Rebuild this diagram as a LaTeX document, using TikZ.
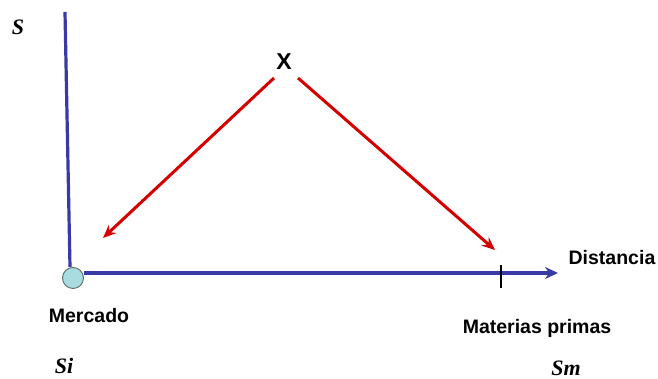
\documentclass[tikz,border=0pt]{standalone}
\usepackage{fontspec}
\setmainfont{Liberation Serif}
\setsansfont{Liberation Sans}
\usetikzlibrary{positioning, arrows.meta, backgrounds}
\definecolor{axisBlue}{HTML}{3A3AA6}
\definecolor{arrowRed}{HTML}{D40000}
\definecolor{marketCyan}{HTML}{A8DCE0}
\definecolor{edgeGrey}{HTML}{5A6A6A}

\begin{document}
\begin{tikzpicture}[x=1pt, y=1pt,
    lbl/.style={font=\sffamily\bfseries\fontsize{19.5}{21}\selectfont, inner sep=0pt},
    sym/.style={font=\rmfamily\bfseries\itshape\fontsize{22}{24}\selectfont, inner sep=0pt},
    axis/.style={axisBlue, line width=3.2pt},
    pull/.style={arrowRed, line width=3pt, -{Stealth[length=13pt, width=11pt]}}]
    \useasboundingbox (0,0) rectangle (658,379);
    % axes
    \coordinate (ytop) at (65,367);
    \coordinate (xend) at (558,106);
    \node[circle, fill=marketCyan, draw=edgeGrey, line width=0.9pt, minimum size=21pt, inner sep=0pt] (mkt) at (73,101) {};
    \begin{scope}[on background layer]
      \draw[axis] (ytop) -- ([xshift=-3pt]mkt.north);
      \draw[axis, -{Stealth[length=13pt, width=12pt]}] (mkt.east |- xend) -- (xend);
    \end{scope}
    \coordinate (mp) at (501,106);
    \draw[line width=2.4pt, black] ([yshift=8pt]mp) -- ([yshift=-15pt]mp);
    % labels
    \node[lbl] (dist) at (612,121) {Distancia};
    \node[lbl] (merc) at (89,63) {Mercado};
    \node[lbl] (mat) at (537,51) {Materias primas};
    \node[sym] (s) at (18,352) {S};
    \node[sym] (si) at (64,13) {Si};
    \node[sym] (sm) at (566,11) {Sm};
    % location point and pulls
    \node[lbl, font=\sffamily\bfseries\fontsize{23}{25}\selectfont] (x) at (284,317) {X};
    \coordinate (xl) at (274,301);
    \coordinate (xr) at (298,301);
    \coordinate (tl) at (103,141);
    \coordinate (tr) at (495,129);
    \draw[pull] (xl) -- (tl);
    \draw[pull] (xr) -- (tr);
\end{tikzpicture}
\end{document}
